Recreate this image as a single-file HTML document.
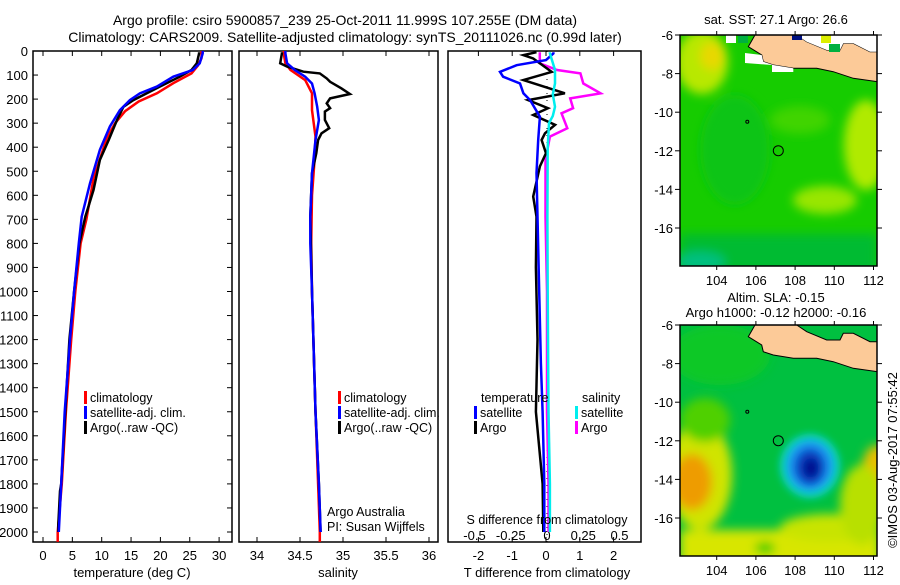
<!DOCTYPE html>
<html><head><meta charset="utf-8"><style>
body{margin:0;background:#fff;}
svg text{font-family:"Liberation Sans",sans-serif;fill:#000;}
</style></head><body>
<svg id="c" width="900" height="580" viewBox="0 0 900 580" xmlns="http://www.w3.org/2000/svg">
<defs>
<filter id="bl" x="-20%" y="-20%" width="140%" height="140%"><feGaussianBlur stdDeviation="5"/></filter>
<filter id="bl2" x="-20%" y="-20%" width="140%" height="140%"><feGaussianBlur stdDeviation="4"/></filter>
<clipPath id="m1"><rect x="680" y="35" width="197" height="231"/></clipPath>
<clipPath id="m2"><rect x="680" y="325" width="197" height="231"/></clipPath>
</defs>
<text x="345" y="25" font-size="14" text-anchor="middle">Argo profile: csiro 5900857_239 25-Oct-2011 11.999S 107.255E (DM data)</text>
<text x="345" y="42" font-size="14" text-anchor="middle">Climatology: CARS2009. Satellite-adjusted climatology: synTS_20111026.nc (0.99d later)</text>
<g id="plots"></g>
<g id="maps">
 <g clip-path="url(#m1)">
  <rect x="680" y="35" width="197" height="231" fill="#16cc00"/>
  <g filter="url(#bl)">
   <ellipse cx="702" cy="62" rx="26" ry="32" fill="#b8e800"/>
   <ellipse cx="712" cy="56" rx="12" ry="14" fill="#e8d800"/>
   <ellipse cx="866" cy="145" rx="22" ry="45" fill="#b0ea00"/>
   <ellipse cx="825" cy="200" rx="32" ry="14" fill="#98e600"/>
   <ellipse cx="800" cy="120" rx="30" ry="14" fill="#40d400"/>
   <rect x="680" y="234" width="197" height="40" fill="#00bb30"/>
   <ellipse cx="700" cy="262" rx="25" ry="10" fill="#00c080"/>
   <ellipse cx="735" cy="150" rx="35" ry="55" fill="#08c418"/>
  </g>
  <path d="M755 35 L748.3 46.7 L761.7 55 L763.3 61.7 L773.3 65 L793.3 68.3 L816.7 68.3 L833.3 71.7 L853.3 78.3 L877.3 81.7 L877.3 51.7 L870 51.7 L853.3 43.3 L843.3 43.3 L840 50 L826.7 50 L806.7 41.7 L796.7 35 Z" fill="#fcca98" stroke="#000" stroke-width="1"/>
  <path d="M796.7 35 L877.3 35 L877.3 51.7 L870 51.7 L853.3 43.3 L843.3 43.3 L840 50 L826.7 50 L806.7 41.7 Z" fill="#fff"/>
  <path d="M745 53 L761.7 55 L763.3 61.7 L773.3 65 L793.3 68.3 L793.3 72 L772 72 L772 65 L745 63 Z" fill="#fff"/>
  <rect x="726" y="35" width="10" height="8" fill="#fff"/>
  <rect x="738" y="35" width="10" height="8" fill="#00b040"/>
  <rect x="792" y="35" width="10" height="5" fill="#001080"/>
  <rect x="821" y="35" width="10" height="8" fill="#dcee00"/>
  <rect x="829" y="44" width="11" height="8" fill="#00b040"/>
  <circle cx="747.3" cy="121.7" r="1.5" fill="none" stroke="#000"/>
  <circle cx="778.3" cy="150.7" r="5" fill="none" stroke="#000"/>
 </g>
 <g clip-path="url(#m2)">
  <rect x="680" y="325" width="197" height="231" fill="#00c040"/>
  <g filter="url(#bl)">
   <ellipse cx="720" cy="355" rx="50" ry="30" fill="#10c828"/>
   <ellipse cx="700" cy="475" rx="32" ry="55" fill="#d0e400"/>
   <ellipse cx="692" cy="482" rx="20" ry="28" fill="#ee9c00"/>
   <rect x="680" y="530" width="200" height="40" fill="#d8e600"/>
   <ellipse cx="830" cy="528" rx="50" ry="14" fill="#c8e400"/>
   <ellipse cx="877" cy="475" rx="16" ry="30" fill="#e8c000"/>
   <ellipse cx="862" cy="505" rx="22" ry="40" fill="#b8e000"/>
   <ellipse cx="705" cy="420" rx="25" ry="22" fill="#50d000"/>
   <ellipse cx="765" cy="548" rx="10" ry="6" fill="#20cc00"/>
  </g>
  <g filter="url(#bl2)">
   <ellipse cx="810" cy="466" rx="30" ry="32" fill="#10d0c8"/>
   <ellipse cx="810" cy="466" rx="23" ry="25" fill="#1890f0"/>
   <ellipse cx="810" cy="467" rx="15" ry="18" fill="#1040c0"/>
   <ellipse cx="811" cy="468" rx="8" ry="10" fill="#001090"/>
  </g>
  <path d="M755 35 L748.3 46.7 L761.7 55 L763.3 61.7 L773.3 65 L793.3 68.3 L816.7 68.3 L833.3 71.7 L853.3 78.3 L877.3 81.7 L877.3 51.7 L870 51.7 L853.3 43.3 L843.3 43.3 L840 50 L826.7 50 L806.7 41.7 L796.7 35 Z" transform="translate(0,290)" fill="#fcca98" stroke="#000" stroke-width="1"/>
  <circle cx="747.3" cy="411.7" r="1.5" fill="none" stroke="#000"/>
  <circle cx="778.3" cy="440.7" r="5" fill="none" stroke="#000"/>
 </g>
 <text x="776" y="24" font-size="13" text-anchor="middle">sat. SST: 27.1 Argo: 26.6</text>
 <text x="776" y="302" font-size="13" text-anchor="middle">Altim. SLA: -0.15</text>
 <text x="776" y="317" font-size="13" text-anchor="middle">Argo h1000: -0.12 h2000: -0.16</text>
 <text transform="translate(897,460) rotate(-90)" font-size="13" text-anchor="middle">©IMOS 03-Aug-2017 07:55:42</text>
</g>
<g id="leg">
 <text x="327" y="516" font-size="12.5">Argo Australia</text>
 <text x="327" y="531" font-size="12.5">PI: Susan Wijffels</text>
 <text x="547" y="524" font-size="12.5" text-anchor="middle">S difference from climatology</text>
</g>
</svg>
<script>
// ---------- data ----------
const tClimDepth=[0,30,60,93,134,176,210,250,300,360,450,530,700,800,1000,1200,1500,1800,2000,2041];
const tClim=[27.0,27.0,26.4,25.3,22.2,19.4,16.3,14.0,12.3,10.9,9.7,8.6,7.4,6.4,5.5,4.8,3.9,3.2,2.5,2.5];
const tSatDepth=[0,10,51,79,107,148,176,204,246,314,411,550,689,800,1000,1200,1500,1800,2000];
const tSat=[27.2,27.2,26.7,25.5,22.2,19.4,16.5,14.8,13.1,11.4,9.7,8.0,6.6,6.1,5.3,4.6,3.7,3.1,2.7];
const tArgoDepth=[5,10,51,79,107,148,183,204,232,287,370,453,578,689,800,1000,1200,1500,1800,1830,1970,2000];
const tArgo=[26.6,26.6,26.2,25.3,23.3,19.9,17.1,15.4,13.7,12.6,11.2,9.7,8.6,7.2,6.2,5.3,4.5,3.8,3.1,2.9,2.6,2.6];
const sClimDepth=[0,10,51,79,121,176,246,356,450,600,800,1000,1500,1800,2000,2041];
const sClim=[34.31,34.31,34.33,34.39,34.56,34.64,34.64,34.68,34.67,34.64,34.63,34.64,34.68,34.71,34.73,34.73];
const sSatDepth=[0,10,51,79,107,135,176,232,287,370,508,689,800,1000,1500,1800,2000];
const sSat=[34.33,34.33,34.35,34.44,34.56,34.64,34.67,34.70,34.72,34.68,34.64,34.62,34.62,34.64,34.68,34.72,34.74];
const sArgoDepth=[5,10,51,65,86,93,114,128,155,179,197,218,238,252,287,321,342,370,425,508,689,1000,1500,1800,2000];
const sArgo=[34.29,34.29,34.27,34.35,34.54,34.73,34.81,34.85,34.98,35.08,34.85,34.81,34.85,34.79,34.79,34.84,34.75,34.71,34.69,34.64,34.62,34.64,34.68,34.72,34.74];
const dtSatDepth=[5,10,38,59,87,107,135,176,204,273,370,508,689,1000,1300,1500,1800,2000];
const dtSat=[0.22,0.22,0.0,-0.87,-1.36,-1.27,-0.77,-0.67,-0.47,-0.18,-0.23,-0.28,-0.25,-0.2,-0.15,-0.1,-0.05,-0.05];
const dtArgoDepth=[5,17,31,87,121,176,204,238,266,307,342,370,425,480,605,689,900,1200,1500,1800,2000];
const dtArgo=[-0.28,-0.67,-0.38,0.17,-0.67,0.56,-0.53,0.06,-0.38,0.27,-0.03,-0.13,0.0,-0.18,-0.38,-0.28,-0.3,-0.25,-0.3,-0.1,-0.08];
const dsSatDepth=[5,10,79,135,180,232,270,300,400,689,1000,1500,1800,2000];
const dsSat=[0.02,0.02,0.055,0.055,0.04,0.055,0.04,0.014,0.005,0.003,0.005,0.01,0.02,0.02];
const dsArgoDepth=[5,10,51,79,93,135,176,197,238,259,321,356,453,689,1000,1500,1800,2000];
const dsArgo=[-0.05,-0.05,-0.05,0.07,0.23,0.25,0.37,0.16,0.18,0.10,0.14,0.02,-0.01,-0.01,0.0,0.0,0.01,0.01];
const depthTicks=[0,100,200,300,400,500,600,700,800,900,1000,1100,1200,1300,1400,1500,1600,1700,1800,1900,2000];
const tTicks=[0,5,10,15,20,25,30];
const sTicks=[34,34.5,35,35.5,36];
const sTickLabels=["34","34.5","35","35.5","36"];
const dTTicks=[-2,-1,0,1,2];
const dSTicks=[-0.5,-0.25,0,0.25,0.5];
const dSTickLabels=["-0.5","-0.25","0","0.25","0.5"];
const latTicks=[-6,-8,-10,-12,-14,-16];
const lonTicks=[104,106,108,110,112];

// ---------- axes ----------
const Y0=51,YB=542;
const yD=d=>Y0+d*0.2405;
const xT=v=>43+v*5.87;
const xS=v=>257+(v-34)*86;
const xDT=v=>546+v*33.8;
const xDS=v=>547+v*145;
const NS='http://www.w3.org/2000/svg';
const root=document.getElementById('plots');
function mk(tag,attrs,parent){const e=document.createElementNS(NS,tag);for(const k in attrs)e.setAttribute(k,attrs[k]);(parent||root).appendChild(e);return e;}
function txt(s,x,y,anchor,size,name){const e=mk('text',{x:x,y:y,'text-anchor':anchor,'font-size':size});e.textContent=s;


return e;}
function series(xs,ds,fx,color,name){
 let p='';
 for(let i=0;i<xs.length;i++){p+=(i?'L':'M')+fx(xs[i]).toFixed(1)+' '+yD(ds[i]).toFixed(1);}
 const e=mk('path',{d:p,fill:'none',stroke:color,'stroke-width':2.5,'stroke-linejoin':'miter'});
 
 
}
function frame(x0,x1,name){
 const e=mk('rect',{x:x0,y:Y0,width:x1-x0,height:YB-Y0,fill:'none',stroke:'#000','stroke-width':1.5});
 
 
}
function xticks(vals,labels,fx,x0,x1,ly,name){
 vals.forEach((v,i)=>{const x=fx(v);
  mk('line',{x1:x,x2:x,y1:YB,y2:YB-5,stroke:'#000'});
  mk('line',{x1:x,x2:x,y1:Y0,y2:Y0+5,stroke:'#000'});
  txt(labels[i],x,ly,'middle',13,name+'-'+i);});
}
frame(33,232,'temperature-panel');frame(239,438,'salinity-panel');frame(448,641,'difference-panel');
depthTicks.forEach((d,i)=>{const y=yD(d);
 mk('line',{x1:33,x2:38,y1:y,y2:y,stroke:'#000'});
 mk('line',{x1:227,x2:232,y1:y,y2:y,stroke:'#000'});
 txt(String(d),28,y+5,'end',13,'depth-tick-'+i);});
xticks(tTicks,tTicks.map(String),xT,33,232,560,'temp-tick');
xticks(sTicks,sTickLabels,xS,239,438,560,'sal-tick');
xticks(dTTicks,dTTicks.map(String),xDT,448,641,560,'tdiff-tick');
dSTicks.forEach((v,i)=>txt(dSTickLabels[i],xDS(v),540,'middle',13,'sdiff-tick-'+i));
txt('temperature (deg C)',132,577,'middle',13,'temperature-axis-title');
txt('salinity',338,577,'middle',13,'salinity-axis-title');
txt('T difference from climatology',547,577,'middle',13,'t-diff-axis-title');
const z=mk('line',{x1:xDT(0)+1,x2:xDT(0)+1,y1:Y0,y2:YB,stroke:'#000','stroke-dasharray':'1 6'});


series(tClim,tClimDepth,xT,'#ff0000','temp-climatology-line');
series(tArgo,tArgoDepth,xT,'#000000','temp-argo-line');
series(tSat,tSatDepth,xT,'#0000ff','temp-satellite-line');
series(sClim,sClimDepth,xS,'#ff0000','sal-climatology-line');
series(sArgo,sArgoDepth,xS,'#000000','sal-argo-line');
series(sSat,sSatDepth,xS,'#0000ff','sal-satellite-line');
series(dsArgo,dsArgoDepth,xDS,'#ff00ff','sdiff-argo-line');
series(dtArgo,dtArgoDepth,xDT,'#000000','tdiff-argo-line');
series(dtSat,dtSatDepth,xDT,'#0000ff','tdiff-satellite-line');
series(dsSat,dsSatDepth,xDS,'#00eeee','sdiff-satellite-line');
function leg(x,y,color,label,name){
 const b=mk('rect',{x:x,y:y-11,width:3,height:13,fill:color});
 
 
 txt(label,x+6,y,'start',12.5,name+'-label');
}
const legRows=[402,417,432];
leg(84,legRows[0],'#ff0000','climatology','legend-temp-clim');
leg(84,legRows[1],'#0000ff','satellite-adj. clim.','legend-temp-sat');
leg(84,legRows[2],'#000000','Argo(..raw -QC)','legend-temp-argo');
leg(338,legRows[0],'#ff0000','climatology','legend-sal-clim');
leg(338,legRows[1],'#0000ff','satellite-adj. clim.','legend-sal-sat');
leg(338,legRows[2],'#000000','Argo(..raw -QC)','legend-sal-argo');
txt('temperature',481,legRows[0],'start',12.5,'legend-temperature-heading');
txt('salinity',582,legRows[0],'start',12.5,'legend-salinity-heading');
leg(474,legRows[1],'#0000ff','satellite','legend-tdiff-sat');
leg(474,legRows[2],'#000000','Argo','legend-tdiff-argo');
leg(575,legRows[1],'#00eeee','satellite','legend-sdiff-sat');
leg(575,legRows[2],'#ff00ff','Argo','legend-sdiff-argo');
const mapsG=document.getElementById('maps');
const lonX=v=>716.7+(v-104)*19.6;
[[35,266,'sst'],[325,556,'sla']].forEach(([t,b,n])=>{
 const r=mk('rect',{x:680,y:t,width:197,height:b-t,fill:'none',stroke:'#000','stroke-width':1.5},mapsG);
 
 
 const latY=v=>t+(-6-v)*19.3;
 latTicks.forEach((v,i)=>{const y=latY(v);
  mk('line',{x1:675,x2:680,y1:y,y2:y,stroke:'#000'},mapsG);
  mk('line',{x1:877,x2:882,y1:y,y2:y,stroke:'#000'},mapsG);
  const e=mk('text',{x:673,y:y+5,'text-anchor':'end','font-size':13},mapsG);e.textContent=String(v);
  
  });
 lonTicks.forEach((v,i)=>{const x=lonX(v);
  mk('line',{x1:x,x2:x,y1:b,y2:b+4,stroke:'#000'},mapsG);
  mk('line',{x1:x,x2:x,y1:t-4,y2:t,stroke:'#000'},mapsG);
  const e=mk('text',{x:x,y:b+19,'text-anchor':'middle','font-size':13},mapsG);e.textContent=String(v);
  
  });
});
</script>
</body></html>
